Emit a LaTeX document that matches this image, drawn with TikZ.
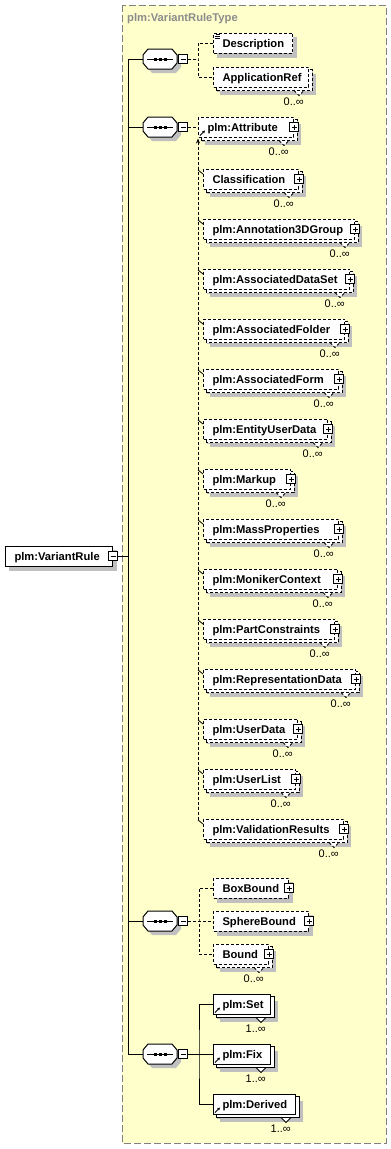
\documentclass[tikz,border=0pt]{standalone}
\usepackage{fontspec}
\setmainfont{Liberation Sans}
\usetikzlibrary{arrows.meta,calc}
\pgfdeclarelayer{bgl}\pgfdeclarelayer{shadowl}\pgfdeclarelayer{backl}
\pgfsetlayers{bgl,shadowl,backl,main}
\definecolor{ylw}{RGB}{255,255,204}
\definecolor{shd}{RGB}{192,192,192}
\definecolor{ttlgray}{RGB}{140,140,140}
\definecolor{frm}{RGB}{128,128,128}
\tikzset{
 elbox/.style={rectangle, draw, fill=white, line width=1pt, inner xsep=9pt, inner ysep=0pt,
   minimum height=20pt, text height=9.5pt, text depth=1.5pt, align=left,
   font=\bfseries\fontsize{11.2}{13}\selectfont},
 optl/.style={dash pattern=on 3pt off 2pt},
 reql/.style={solid},
 conn/.style={line width=1pt},
 optconn/.style={conn, dash pattern=on 3pt off 2pt},
 pmbox/.style={rectangle, draw, fill=white, line width=1pt, minimum size=9pt, inner sep=0pt},
 plusbox/.style={pmbox, path picture={
   \draw[line width=1pt] ([xshift=2pt]path picture bounding box.west) -- ([xshift=-2pt]path picture bounding box.east);
   \draw[line width=1pt] ([yshift=-2pt]path picture bounding box.north) -- ([yshift=2pt]path picture bounding box.south);}},
 minusbox/.style={pmbox, path picture={
   \draw[line width=1pt] ([xshift=2pt]path picture bounding box.west) -- ([xshift=-2pt]path picture bounding box.east);}},
 multlab/.style={inner sep=0pt, font=\fontsize{11}{13}\selectfont, anchor=north east},
 seqnode/.style={rectangle, minimum width=34pt, minimum height=20pt, inner sep=0pt, outer sep=0pt},
 ttl/.style={inner sep=0pt, text=ttlgray, font=\bfseries\fontsize{11.2}{13}\selectfont},
}
% element box: name, x1, x2, y, text, line style
\newcommand\xel[6]{%
 \pgfmathsetmacro\xtw{#3-#2-18}%
 \node[elbox,#6,text width=\xtw pt,anchor=west] (#1) at (#2,#4) {#5};
 \begin{pgfonlayer}{shadowl}
  \fill[shd] ([xshift=4pt,yshift=-4pt]#1.south west) rectangle ([xshift=4pt,yshift=-4pt]#1.north east);
 \end{pgfonlayer}}
% stacked (repeated) back box
\newcommand\xrep[2]{%
 \begin{pgfonlayer}{backl}
  \draw[line width=1pt,#2,fill=white] ([xshift=3pt,yshift=-3pt]#1.south west) rectangle ([xshift=3pt,yshift=-3pt]#1.north east);
 \end{pgfonlayer}
 \begin{pgfonlayer}{shadowl}
  \fill[shd] ([xshift=7pt,yshift=-7pt]#1.south west) rectangle ([xshift=7pt,yshift=-7pt]#1.north east);
 \end{pgfonlayer}}
% multiplicity notch and label
\newcommand\xmult[3]{%
 \begin{pgfonlayer}{backl}
  \fill[white] ([xshift=-15pt,yshift=-3.5pt]#1.south east) -- ([xshift=-10pt,yshift=-8pt]#1.south east) -- ([xshift=-5pt,yshift=-3.5pt]#1.south east) -- cycle;
  \draw[line width=1pt,#2] ([xshift=-15pt,yshift=-3pt]#1.south east) -- ([xshift=-10pt,yshift=-8pt]#1.south east) -- ([xshift=-5pt,yshift=-3pt]#1.south east);
 \end{pgfonlayer}
 \node[multlab] (#1-n) at ([xshift=-5pt,yshift=-10pt]#1.south east) {#3};}
\newcommand\xplus[1]{\node[plusbox] (#1-p) at (#1.east) {};}
\newcommand\xref[1]{\draw[line width=0.8pt,-{Stealth[length=3pt,width=3pt]}] ([xshift=2pt,yshift=2pt]#1.south west) -- ++(5pt,5pt);}
\newcommand\xoctpath{(-12,-10) -- (12,-10) -- (17,-4) -- (17,4) -- (12,10) -- (-12,10) -- (-17,4) -- (-17,-4) -- cycle}
\newcommand\xseq[2]{%
 \node[seqnode] (#1) at (160,#2) {};
 \begin{pgfonlayer}{shadowl}
  \begin{scope}[shift={($(#1.center)+(4pt,-4pt)$)}]
   \fill[shd] \xoctpath;
  \end{scope}
 \end{pgfonlayer}
 \begin{scope}[shift={(#1.center)}]
  \draw[line width=1pt,fill=white] \xoctpath;
  \draw[line width=1pt] (-13,0) -- (13,0);
  \foreach \dx in {-5,0,5} \fill (\dx-1.5,-1.5) rectangle ++(3,3);
 \end{scope}
 \node[minusbox] (#1-m) at ([xshift=6pt]#1.east) {};}

\begin{document}
\begin{tikzpicture}[x=1pt,y=-1pt]
\useasboundingbox (0,0) rectangle (391,1149);
\begin{pgfonlayer}{bgl}
 \draw[fill=ylw, draw=frm, line width=1pt, dash pattern=on 7pt off 3pt] (122,5) rectangle (386,1143);
\end{pgfonlayer}
\node[ttl, anchor=west] (title) at (127,19) {plm:VariantRuleType};

% root
\xel{root}{5}{112}{556}{plm:VariantRule}{reql}
\node[minusbox] (root-m) at (root.east) {};

% sequences
\xseq{s1}{59}
\xseq{s2}{127}
\xseq{s3}{921}
\xseq{s4}{1054}

% group 1
\xel{desc}{213}{292}{43}{Description}{optl}
\draw[line width=0.7pt] ([xshift=3pt,yshift=-1.5pt]desc.north west) -- ++(4pt,0);
\draw[line width=0.7pt] ([xshift=2pt,yshift=-3.5pt]desc.north west) -- ++(5pt,0);
\draw[line width=0.7pt] ([xshift=2pt,yshift=-5.5pt]desc.north west) -- ++(5pt,0);
\xel{appref}{213}{308}{77}{ApplicationRef}{optl}
\xrep{appref}{optl}\xmult{appref}{optl}{0..∞}

% group 2
\xel{attr}{198}{293}{127}{plm:Attribute}{optl}
\xrep{attr}{optl}\xmult{attr}{optl}{0..∞}\xplus{attr}\xref{attr}
\foreach \n/\xr/\yy/\t in {classif/298/179/Classification,
  ann/354/229/plm:Annotation3DGroup, ads/349/279/plm:AssociatedDataSet,
  afold/344/329/plm:AssociatedFolder, aform/338/379/plm:AssociatedForm,
  eud/327/429/plm:EntityUserData, markup/290/479/plm:Markup,
  mass/338/529/plm:MassProperties, mon/337/579/plm:MonikerContext,
  pc/334/629/plm:PartConstraints, repd/355/679/plm:RepresentationData,
  ud/297/729/plm:UserData, ul/295/779/plm:UserList,
  vr/343/829/plm:ValidationResults}{
  \xel{\n}{203}{\xr}{\yy}{\t}{optl}
  \xrep{\n}{optl}\xmult{\n}{optl}{0..∞}\xplus{\n}
  \draw[line width=0.8pt] ([yshift=9pt]\n.west -| attr.south west) -- ([yshift=5pt]\n.west);
}
\draw[optconn,{Stealth[length=5pt,width=4pt]}-] ([yshift=-1pt]attr.south west) -- ([yshift=9pt]vr.west -| attr.south west);

% group 3
\xel{boxb}{213}{288}{888}{BoxBound}{optl}\xplus{boxb}
\xel{sph}{213}{308}{921}{SphereBound}{optl}\xplus{sph}
\xel{bound}{213}{268}{954}{Bound}{optl}
\xrep{bound}{optl}\xmult{bound}{optl}{0..∞}\xplus{bound}

% group 4
\xel{set}{213}{270}{1004}{plm:Set}{reql}
\xrep{set}{reql}\xmult{set}{reql}{1..∞}\xref{set}
\xel{fix}{213}{270}{1054}{plm:Fix}{reql}
\xrep{fix}{reql}\xmult{fix}{reql}{1..∞}\xref{fix}
\xel{der}{213}{295}{1104}{plm:Derived}{reql}
\xrep{der}{reql}\xmult{der}{reql}{1..∞}\xref{der}

% connectors
\coordinate (spine) at (128,556);
\draw[conn] (s1.west) -- (s1.west -| spine) -- (s4.west -| spine) -- (s4.west);
\draw[conn] (s2.west) -- (s2.west -| spine);
\draw[conn] (s3.west) -- (s3.west -| spine);
\draw[conn] (root-m.east) -- (spine);

\coordinate (g1) at (198,59);
\draw[optconn] (s1-m.east) -- (g1);
\draw[optconn] (desc.west) -| (g1) |- (appref.west);

\draw[optconn] (s2-m.east) -- (attr.west);

\coordinate (g3) at (199,921);
\draw[optconn] (s3-m.east) -- (g3) -- (sph.west);
\draw[optconn] (boxb.west) -| (g3) |- (bound.west);

\coordinate (g4) at (199,1054);
\draw[conn] (s4-m.east) -- (g4) -- (fix.west);
\draw[conn] (set.west) -| (g4) |- (der.west);
\end{tikzpicture}
\end{document}
